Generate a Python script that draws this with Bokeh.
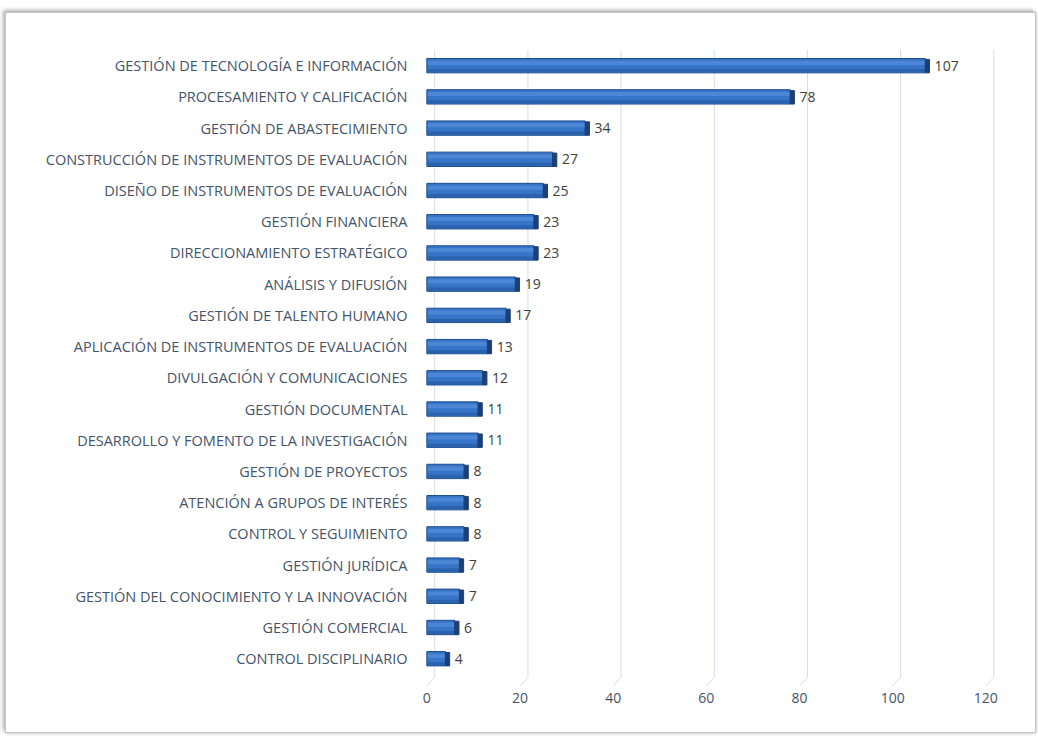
from bokeh.plotting import figure
from bokeh.models import FixedTicker, Range1d, ColumnDataSource
from bokeh.core.properties import value
from bokeh.embed import file_html
from bokeh.resources import INLINE

categories = [
    "GESTIÓN DE TECNOLOGÍA E INFORMACIÓN",
    "PROCESAMIENTO Y CALIFICACIÓN",
    "GESTIÓN DE ABASTECIMIENTO",
    "CONSTRUCCIÓN DE INSTRUMENTOS DE EVALUACIÓN",
    "DISEÑO DE INSTRUMENTOS DE EVALUACIÓN",
    "GESTIÓN FINANCIERA",
    "DIRECCIONAMIENTO ESTRATÉGICO",
    "ANÁLISIS Y DIFUSIÓN",
    "GESTIÓN DE TALENTO HUMANO",
    "APLICACIÓN DE INSTRUMENTOS DE EVALUACIÓN",
    "DIVULGACIÓN Y COMUNICACIONES",
    "GESTIÓN DOCUMENTAL",
    "DESARROLLO Y FOMENTO DE LA INVESTIGACIÓN",
    "GESTIÓN DE PROYECTOS",
    "ATENCIÓN A GRUPOS DE INTERÉS",
    "CONTROL Y SEGUIMIENTO",
    "GESTIÓN JURÍDICA",
    "GESTIÓN DEL CONOCIMIENTO Y LA INNOVACIÓN",
    "GESTIÓN COMERCIAL",
    "CONTROL DISCIPLINARIO",
]
values = [107, 78, 34, 27, 25, 23, 23, 19, 17, 13, 12, 11, 11, 8, 8, 8, 7, 7, 6, 4]
x_ticks = [0, 20, 40, 60, 80, 100, 120]

n = len(categories)
ys = [n - 1 - i for i in range(n)]

FONT = "Open Sans"
LABEL_COLOR = "#44546A"

p = figure(width=1031, height=721, output_backend="svg", toolbar_location=None,
           x_range=Range1d(-0.5, 124), y_range=Range1d(-0.89, n - 1 + 0.55),
           min_border_left=418, min_border_right=33, min_border_top=35, min_border_bottom=48)
p.styles = {"margin-left": "5px", "margin-top": "12px",
            "border": "1px solid #c4c4c4",
            "box-shadow": "-2px -2px 4px rgba(0,0,0,0.30), 1px 1px 3px rgba(0,0,0,0.15)"}
p.outline_line_color = None
p.background_fill_color = "white"
p.border_fill_color = "white"
p.xgrid.visible = False
p.ygrid.visible = False

# 3D-style gridlines (back wall + floor diagonal)
dx = 1.7
gx_back = [t + dx for t in x_ticks]
p.segment(x0=gx_back, y0=[n - 1 + 0.5] * len(x_ticks), x1=gx_back, y1=[-0.6] * len(x_ticks),
          line_color="#D3DCEB", line_width=1)
p.segment(x0=gx_back, y0=[-0.6] * len(x_ticks), x1=x_ticks, y1=[-0.87] * len(x_ticks),
          line_color="#D3DCEB", line_width=1)

src = ColumnDataSource(dict(y=ys, v=values, cat=categories,
                            lab=[str(v) for v in values],
                            yh=[y + 0.09 for y in ys], yb=[y - 0.16 for y in ys],
                            cap_r=[v + 0.9 for v in values],
                            cap_t=[y + 0.2 for y in ys], cap_b=[y - 0.23 for y in ys],
                            tx=[v + 2.0 for v in values]))

# bars
p.hbar(y="y", left=0, right="v", height=0.46, source=src,
       fill_color="#3674C7", line_color="#1F4E8E", line_width=1)
p.hbar(y="yh", left=0.2, right="v", height=0.13, source=src,
       fill_color="#4F8AD6", line_color=None, fill_alpha=0.9)
p.hbar(y="yb", left=0.2, right="v", height=0.1, source=src,
       fill_color="#2A62AE", line_color=None)
p.quad(left="v", right="cap_r", top="cap_t", bottom="cap_b", source=src,
       fill_color="#1C3F75", line_color="#1C3F75")

# value labels
p.text(x="tx", y="y", text="lab", source=src, text_font=value(FONT),
       text_font_size="14px", text_color="#404040", text_baseline="middle", text_align="left")

# axes
p.xaxis.ticker = FixedTicker(ticks=x_ticks)
p.xaxis.axis_line_color = None
p.xaxis.major_tick_line_color = None
p.xaxis.minor_tick_line_color = None
p.xaxis.major_label_text_font = FONT
p.xaxis.major_label_text_font_size = "14px"
p.xaxis.major_label_text_color = LABEL_COLOR
p.xaxis.major_label_standoff = 0

p.yaxis.ticker = FixedTicker(ticks=ys)
p.yaxis.major_label_overrides = {y: c for y, c in zip(ys, categories)}
p.yaxis.axis_line_color = None
p.yaxis.major_tick_line_color = None
p.yaxis.minor_tick_line_color = None
p.yaxis.major_label_text_font = FONT
p.yaxis.major_label_text_font_size = "14.5px"
p.yaxis.major_label_text_color = LABEL_COLOR
p.yaxis.major_label_standoff = 11

open("out.html", "w").write(file_html(p, INLINE))
